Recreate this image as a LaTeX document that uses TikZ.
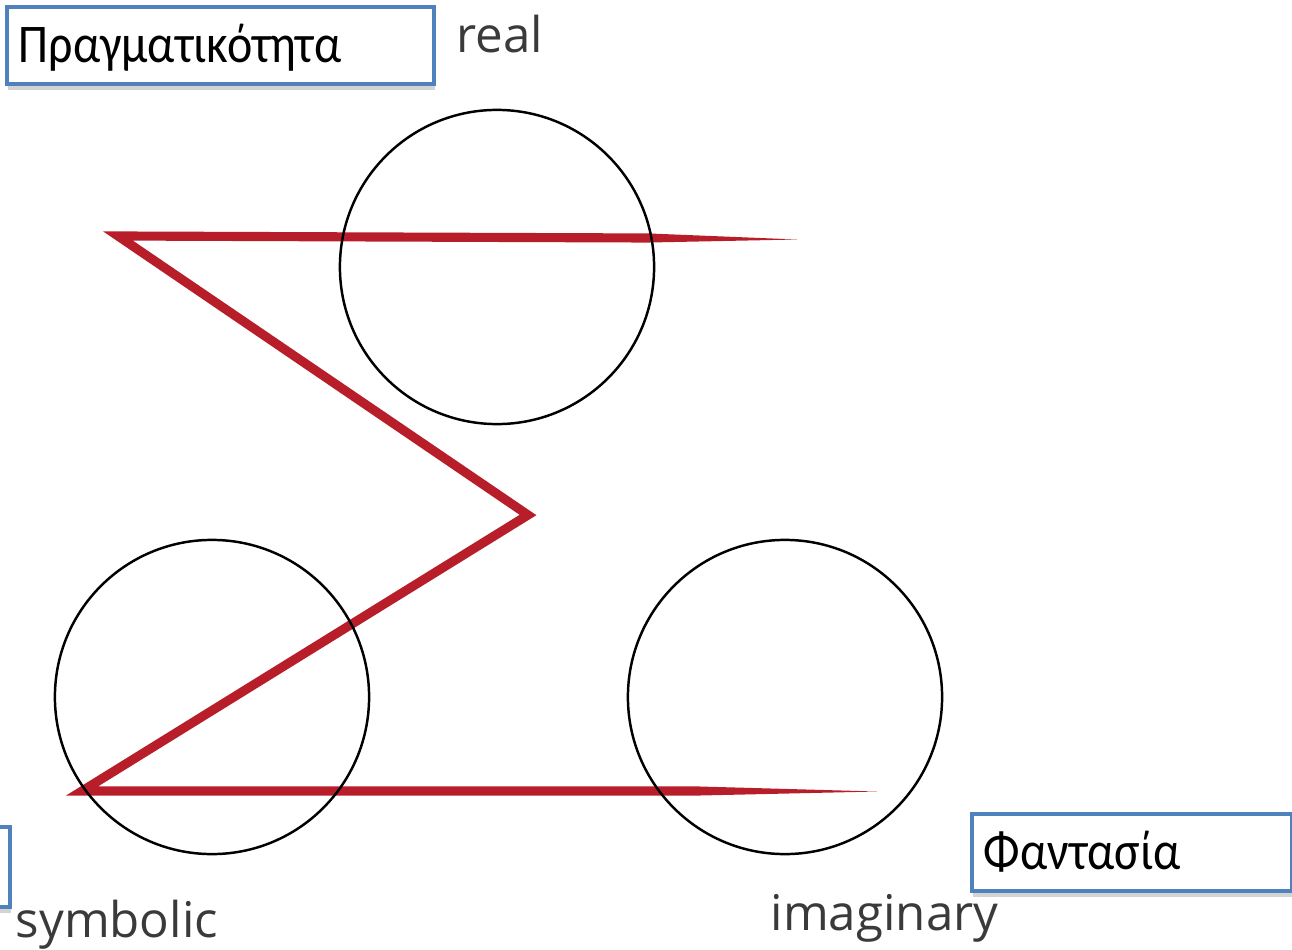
\documentclass[tikz,border=0pt]{standalone}
\usepackage{fontspec}
\setmainfont{Carlito}[FakeStretch=0.88]
\newfontfamily\labelfont{Open Sans}
\usetikzlibrary{shadows}
\definecolor{boxblue}{HTML}{4F81BD}
\definecolor{zigred}{HTML}{B81E2A}
\definecolor{labelgrey}{HTML}{3A3A3A}
\tikzset{
  every picture/.style={x=0.01cm, y=-0.01cm},
  namebox/.style={draw=boxblue, line width=1.1pt, fill=white, anchor=north west,
    align=left, minimum height=0.77cm, inner xsep=0.12cm, inner ysep=0pt,
    text depth=0.05cm, font=\fontsize{15.5}{18}\selectfont,
    drop shadow={shadow xshift=0.3pt, shadow yshift=-1.6pt, opacity=0.35}},
  ring/.style={circle, draw=black, line width=0.7pt, minimum size=3.14cm, inner sep=0pt},
  tag/.style={font=\labelfont\fontsize{14}{17}\selectfont, text=labelgrey, anchor=base west, inner sep=0pt},
  zigzag/.style={draw=zigred, line width=2.6pt, line join=miter},
}

\begin{document}
\begin{tikzpicture}
  \useasboundingbox (0,0) rectangle (1292,949);
  \clip (0,0) rectangle (1292,949);
  % the three registers
  \node[namebox, text width=4.03cm] (greal) at (5,5) {Πραγματικότητα};
  \node[namebox, text width=2.84cm, minimum height=0.80cm] (gsymb) at (-300,825) {};
  \node[namebox, text width=2.96cm] (gimag) at (970,812) {Φαντασία};
  % the red zigzag
  \coordinate (z0) at (650,238);
  \coordinate (z1) at (118,236);
  \coordinate (z2) at (528,515);
  \coordinate (z3) at (82,791);
  \coordinate (z4) at (700,791);
  \draw[zigzag] (z0) -- (z1) -- (z2) -- (z3) -- (z4);
  \fill[zigred] (650,233.5) -- (797,239.5) -- (650,242.5) -- cycle;
  \fill[zigred] (700,786.5) -- (877,791.5) -- (700,795.5) -- cycle;
  % circles
  \node[ring] (real) at (497,267) {};
  \node[ring] (symb) at (212,697) {};
  \node[ring] (imag) at (785,697) {};
  \node[tag] (lreal) at (456,53) {real};
  \node[tag] (lsymb) at (15,937) {symbolic};
  \node[tag] (limag) at (770,930) {imaginary};
\end{tikzpicture}
\end{document}
